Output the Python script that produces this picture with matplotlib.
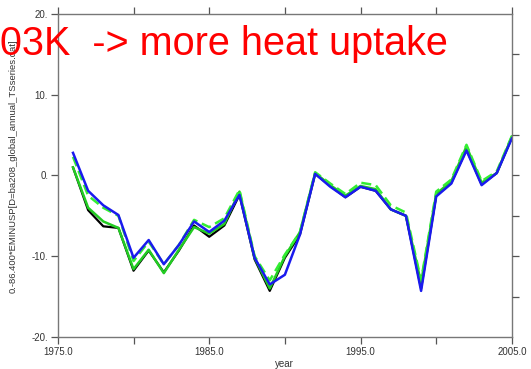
import numpy as np
import matplotlib
matplotlib.use("Agg")
from matplotlib import pyplot as plt

years = list(range(1976, 2006))

black = [1.0, -4.3, -6.3, -6.5, -11.8, -9.3, -12.0, -9.3, -6.2, -7.6, -6.2, -2.4,
         -10.4, -14.3, -10.2, -7.3, 0.2, -1.3, -2.7, -1.4, -1.9, -4.2, -5.0, -14.0,
         -2.5, -0.9, 3.2, -1.1, 0.3, 4.7]
green = [1.0, -4.0, -5.7, -6.5, -11.6, -9.2, -12.1, -9.2, -6.4, -7.2, -6.0, -2.0,
         -10.2, -14.0, -10.0, -7.0, 0.3, -1.2, -2.5, -1.3, -1.7, -4.2, -5.0, -13.3,
         -2.3, -0.7, 3.6, -0.9, 0.3, 4.8]
green_dash = [2.3, -2.5, -4.0, -5.0, -10.6, -8.2, -11.0, -8.6, -5.5, -6.4, -5.3, -1.8,
              -10.0, -13.0, -9.8, -7.0, 0.4, -1.0, -2.3, -0.9, -1.2, -3.7, -4.6, -13.0,
              -2.0, -0.5, 3.8, -0.7, 0.5, 4.9]
blue = [2.8, -1.9, -3.7, -4.9, -10.2, -8.0, -11.0, -8.6, -5.7, -7.0, -5.6, -2.4,
        -10.2, -13.5, -12.3, -7.3, 0.2, -1.4, -2.7, -1.4, -1.9, -4.2, -5.0, -14.3,
        -2.6, -1.0, 3.1, -1.2, 0.3, 4.6]

plt.rcParams['font.family'] = ['Liberation Sans', 'DejaVu Sans']

fig = plt.figure(figsize=(5.31, 3.69), dpi=100)
ax = fig.add_axes([0.109, 0.087, 0.855, 0.875])

ax.plot(years, black, color="black", lw=1.6)
ax.plot(years, green, color="#22cc22", lw=1.8)
ax.plot(years, green_dash, color="#33ee33", lw=1.8, ls=(0, (4, 2)))
ax.plot(years, blue, color="#1a1aee", lw=1.8)

ax.set_xlim(1975, 2005)
ax.set_ylim(-20, 20)

for s in ax.spines.values():
    s.set_color("#777777")
    s.set_linewidth(1.0)

ax.set_xticks([1975, 1985, 1995, 2005])
ax.set_xticklabels(["1975.0", "1985.0", "1995.0", "2005.0"])
ax.set_xticks([1980, 1990, 2000], minor=True)
ax.set_yticks([-20, -10, 0, 10, 20])
ax.set_yticklabels(["-20.", "-10.", "0.", "10.", "20."])
ax.tick_params(axis="both", which="both", direction="out", length=5, width=0.9,
               color="#555555", labelsize=7, labelcolor="#333333", pad=2,
               top=True, labeltop=False)

# right side ticks every 5
rax = ax.twinx()
rax.set_ylim(-20, 20)
rax.set_yticks(np.arange(-15, 20, 5))
rax.tick_params(axis="y", direction="out", length=5, width=0.9, color="#555555",
                labelright=False)
for s in rax.spines.values():
    s.set_visible(False)

ax.set_xlabel("year", fontsize=7, color="#333333", labelpad=2)
ax.set_ylabel("0.-86.400*EMINUSP[D=ba208_global_annual_TSseries.dat]",
              fontsize=6.8, color="#333333")
ax.yaxis.set_label_coords(-0.088, 0.53)

fig.text(0.0, 0.88, "03K  -> more heat uptake", color="red", fontsize=28.5,
         ha="left", va="center")

fig.savefig("out.png", dpi=100)
